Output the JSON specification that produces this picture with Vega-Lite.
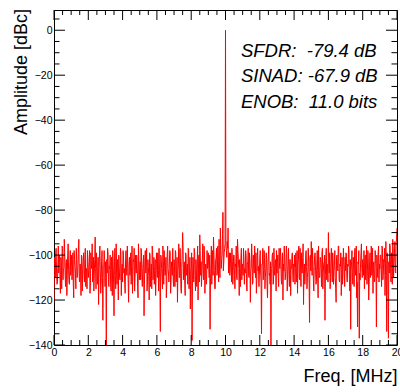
{
"$schema": "https://vega.github.io/schema/vega-lite/v6.json",
"width": 343, "height": 335,
"autosize": {"type": "none"},
"padding": {"left": 54, "top": 10, "right": 3, "bottom": 47},
"background": "white",
"config": {"view": {"stroke": "black", "strokeWidth": 1}, "font": "Liberation Sans"},
"datasets": {
"notes": [
{"f": 10.9, "a": -11.7, "t": "SFDR:\u00a0 -79.4 dB"},
{"f": 10.9, "a": -23.2, "t": "SINAD: -67.9 dB"},
{"f": 10.9, "a": -34.6, "t": "ENOB:\u00a0 11.0 bits"}
],
"xmaj": [{"v":0},{"v":2},{"v":4},{"v":6},{"v":8},{"v":10},{"v":12},{"v":14},{"v":16},{"v":18},{"v":20}],
"xmin": [{"v":0.5},{"v":1},{"v":1.5},{"v":2.5},{"v":3},{"v":3.5},{"v":4.5},{"v":5},{"v":5.5},{"v":6.5},{"v":7},{"v":7.5},{"v":8.5},{"v":9},{"v":9.5},{"v":10.5},{"v":11},{"v":11.5},{"v":12.5},{"v":13},{"v":13.5},{"v":14.5},{"v":15},{"v":15.5},{"v":16.5},{"v":17},{"v":17.5},{"v":18.5},{"v":19},{"v":19.5}],
"ymaj": [{"v":-140},{"v":-120},{"v":-100},{"v":-80},{"v":-60},{"v":-40},{"v":-20},{"v":0}],
"ymin": [{"v":-135},{"v":-130},{"v":-125},{"v":-115},{"v":-110},{"v":-105},{"v":-95},{"v":-90},{"v":-85},{"v":-75},{"v":-70},{"v":-65},{"v":-55},{"v":-50},{"v":-45},{"v":-35},{"v":-30},{"v":-25},{"v":-15},{"v":-10},{"v":-5},{"v":5}],
"spectrum": [
{"f":0.00,"a":-121},{"f":0.05,"a":-104},{"f":0.10,"a":-99},{"f":0.15,"a":-108},{"f":0.20,"a":-112},{"f":0.25,"a":-96},{"f":0.30,"a":-103},{"f":0.35,"a":-110},{"f":0.40,"a":-101},{"f":0.45,"a":-115},{"f":0.50,"a":-97},{"f":0.55,"a":-106},{"f":0.60,"a":-93},{"f":0.65,"a":-109},{"f":0.70,"a":-104},{"f":0.75,"a":-118},{"f":0.80,"a":-100},{"f":0.85,"a":-107},{"f":0.90,"a":-113},{"f":0.95,"a":-98},
{"f":1.00,"a":-105},{"f":1.05,"a":-111},{"f":1.10,"a":-99},{"f":1.15,"a":-119},{"f":1.20,"a":-102},{"f":1.25,"a":-108},{"f":1.30,"a":-97},{"f":1.35,"a":-110},{"f":1.40,"a":-104},{"f":1.45,"a":-93},{"f":1.50,"a":-112},{"f":1.55,"a":-107},{"f":1.60,"a":-100},{"f":1.65,"a":-116},{"f":1.70,"a":-103},{"f":1.75,"a":-109},{"f":1.80,"a":-101},{"f":1.85,"a":-114},{"f":1.90,"a":-106},{"f":1.95,"a":-98},
{"f":2.00,"a":-110},{"f":2.05,"a":-103},{"f":2.10,"a":-117},{"f":2.15,"a":-99},{"f":2.20,"a":-106},{"f":2.25,"a":-112},{"f":2.30,"a":-101},{"f":2.35,"a":-108},{"f":2.40,"a":-92},{"f":2.45,"a":-115},{"f":2.50,"a":-104},{"f":2.55,"a":-109},{"f":2.60,"a":-122},{"f":2.65,"a":-100},{"f":2.70,"a":-107},{"f":2.75,"a":-113},{"f":2.80,"a":-98},{"f":2.85,"a":-129},{"f":2.90,"a":-105},{"f":2.95,"a":-102},
{"f":3.00,"a":-103},{"f":3.05,"a":-140},{"f":3.10,"a":-108},{"f":3.15,"a":-99},{"f":3.20,"a":-114},{"f":3.25,"a":-106},{"f":3.30,"a":-112},{"f":3.35,"a":-101},{"f":3.40,"a":-118},{"f":3.45,"a":-104},{"f":3.50,"a":-127},{"f":3.55,"a":-97},{"f":3.60,"a":-115},{"f":3.65,"a":-108},{"f":3.70,"a":-102},{"f":3.75,"a":-120},{"f":3.80,"a":-105},{"f":3.85,"a":-111},{"f":3.90,"a":-99},{"f":3.95,"a":-107},
{"f":4.00,"a":-112},{"f":4.05,"a":-100},{"f":4.10,"a":-106},{"f":4.15,"a":-117},{"f":4.20,"a":-98},{"f":4.25,"a":-109},{"f":4.30,"a":-104},{"f":4.35,"a":-121},{"f":4.40,"a":-101},{"f":4.45,"a":-107},{"f":4.50,"a":-113},{"f":4.55,"a":-96},{"f":4.60,"a":-110},{"f":4.65,"a":-103},{"f":4.70,"a":-116},{"f":4.75,"a":-100},{"f":4.80,"a":-108},{"f":4.85,"a":-105},{"f":4.90,"a":-119},{"f":4.95,"a":-102},
{"f":5.00,"a":-106},{"f":5.05,"a":-111},{"f":5.10,"a":-99},{"f":5.15,"a":-114},{"f":5.20,"a":-103},{"f":5.25,"a":-127},{"f":5.30,"a":-101},{"f":5.35,"a":-108},{"f":5.40,"a":-97},{"f":5.45,"a":-112},{"f":5.50,"a":-105},{"f":5.55,"a":-120},{"f":5.60,"a":-100},{"f":5.65,"a":-109},{"f":5.70,"a":-115},{"f":5.75,"a":-98},{"f":5.80,"a":-107},{"f":5.85,"a":-113},{"f":5.90,"a":-102},{"f":5.95,"a":-110},
{"f":6.00,"a":-104},{"f":6.05,"a":-99},{"f":6.10,"a":-116},{"f":6.15,"a":-107},{"f":6.20,"a":-134},{"f":6.25,"a":-101},{"f":6.30,"a":-110},{"f":6.35,"a":-96},{"f":6.40,"a":-113},{"f":6.45,"a":-105},{"f":6.50,"a":-108},{"f":6.55,"a":-119},{"f":6.60,"a":-100},{"f":6.65,"a":-106},{"f":6.70,"a":-112},{"f":6.75,"a":-98},{"f":6.80,"a":-117},{"f":6.85,"a":-103},{"f":6.90,"a":-109},{"f":6.95,"a":-111},
{"f":7.00,"a":-102},{"f":7.05,"a":-114},{"f":7.10,"a":-99},{"f":7.15,"a":-108},{"f":7.20,"a":-121},{"f":7.25,"a":-104},{"f":7.30,"a":-110},{"f":7.35,"a":-97},{"f":7.40,"a":-115},{"f":7.45,"a":-106},{"f":7.50,"a":-90},{"f":7.55,"a":-111},{"f":7.60,"a":-103},{"f":7.65,"a":-118},{"f":7.70,"a":-100},{"f":7.75,"a":-107},{"f":7.80,"a":-113},{"f":7.85,"a":-98},{"f":7.90,"a":-109},{"f":7.95,"a":-124},
{"f":8.00,"a":-105},{"f":8.05,"a":-138},{"f":8.10,"a":-101},{"f":8.15,"a":-112},{"f":8.20,"a":-99},{"f":8.25,"a":-116},{"f":8.30,"a":-107},{"f":8.35,"a":-103},{"f":8.40,"a":-120},{"f":8.45,"a":-100},{"f":8.50,"a":-91},{"f":8.55,"a":-109},{"f":8.60,"a":-114},{"f":8.65,"a":-102},{"f":8.70,"a":-108},{"f":8.75,"a":-96},{"f":8.80,"a":-117},{"f":8.85,"a":-104},{"f":8.90,"a":-111},{"f":8.95,"a":-106},
{"f":9.00,"a":-99},{"f":9.05,"a":-110},{"f":9.10,"a":-133},{"f":9.15,"a":-104},{"f":9.20,"a":-113},{"f":9.25,"a":-98},{"f":9.30,"a":-92},{"f":9.35,"a":-107},{"f":9.40,"a":-115},{"f":9.45,"a":-101},{"f":9.50,"a":-109},{"f":9.55,"a":-96},{"f":9.60,"a":-112},{"f":9.65,"a":-104},{"f":9.70,"a":-88},{"f":9.75,"a":-106},{"f":9.80,"a":-100},{"f":9.85,"a":-81},{"f":9.90,"a":-103},{"f":9.95,"a":-97},
{"f":10.00,"a":0},{"f":10.05,"a":-98},{"f":10.10,"a":-94},{"f":10.15,"a":-88},{"f":10.20,"a":-104},{"f":10.25,"a":-109},{"f":10.30,"a":-99},{"f":10.35,"a":-112},{"f":10.40,"a":-103},{"f":10.45,"a":-107},{"f":10.50,"a":-100},{"f":10.55,"a":-115},{"f":10.60,"a":-105},{"f":10.65,"a":-110},{"f":10.70,"a":-93},{"f":10.75,"a":-102},{"f":10.80,"a":-118},{"f":10.85,"a":-106},{"f":10.90,"a":-101},{"f":10.95,"a":-111},
{"f":11.00,"a":-104},{"f":11.05,"a":-97},{"f":11.10,"a":-113},{"f":11.15,"a":-108},{"f":11.20,"a":-100},{"f":11.25,"a":-116},{"f":11.30,"a":-103},{"f":11.35,"a":-109},{"f":11.40,"a":-99},{"f":11.45,"a":-121},{"f":11.50,"a":-106},{"f":11.55,"a":-101},{"f":11.60,"a":-112},{"f":11.65,"a":-105},{"f":11.70,"a":-96},{"f":11.75,"a":-110},{"f":11.80,"a":-117},{"f":11.85,"a":-102},{"f":11.90,"a":-107},{"f":11.95,"a":-114},
{"f":12.00,"a":-101},{"f":12.05,"a":-108},{"f":12.10,"a":-135},{"f":12.15,"a":-104},{"f":12.20,"a":-111},{"f":12.25,"a":-98},{"f":12.30,"a":-115},{"f":12.35,"a":-106},{"f":12.40,"a":-102},{"f":12.45,"a":-119},{"f":12.50,"a":-100},{"f":12.55,"a":-109},{"f":12.60,"a":-113},{"f":12.65,"a":-140},{"f":12.70,"a":-105},{"f":12.75,"a":-99},{"f":12.80,"a":-112},{"f":12.85,"a":-107},{"f":12.90,"a":-103},{"f":12.95,"a":-116},
{"f":13.00,"a":-108},{"f":13.05,"a":-100},{"f":13.10,"a":-114},{"f":13.15,"a":-105},{"f":13.20,"a":-97},{"f":13.25,"a":-111},{"f":13.30,"a":-103},{"f":13.35,"a":-120},{"f":13.40,"a":-107},{"f":13.45,"a":-101},{"f":13.50,"a":-110},{"f":13.55,"a":-96},{"f":13.60,"a":-116},{"f":13.65,"a":-104},{"f":13.70,"a":-109},{"f":13.75,"a":-102},{"f":13.80,"a":-118},{"f":13.85,"a":-106},{"f":13.90,"a":-99},{"f":13.95,"a":-112},
{"f":14.00,"a":-105},{"f":14.05,"a":-113},{"f":14.10,"a":-99},{"f":14.15,"a":-108},{"f":14.20,"a":-117},{"f":14.25,"a":-102},{"f":14.30,"a":-110},{"f":14.35,"a":-97},{"f":14.40,"a":-114},{"f":14.45,"a":-106},{"f":14.50,"a":-101},{"f":14.55,"a":-122},{"f":14.60,"a":-104},{"f":14.65,"a":-109},{"f":14.70,"a":-98},{"f":14.75,"a":-115},{"f":14.80,"a":-107},{"f":14.85,"a":-103},{"f":14.90,"a":-130},{"f":14.95,"a":-100},
{"f":15.00,"a":-94},{"f":15.05,"a":-109},{"f":15.10,"a":-104},{"f":15.15,"a":-116},{"f":15.20,"a":-100},{"f":15.25,"a":-107},{"f":15.30,"a":-112},{"f":15.35,"a":-98},{"f":15.40,"a":-119},{"f":15.45,"a":-105},{"f":15.50,"a":-110},{"f":15.55,"a":-102},{"f":15.60,"a":-114},{"f":15.65,"a":-97},{"f":15.70,"a":-108},{"f":15.75,"a":-103},{"f":15.80,"a":-129},{"f":15.85,"a":-101},{"f":15.90,"a":-111},{"f":15.95,"a":-106},
{"f":16.00,"a":-90},{"f":16.05,"a":-108},{"f":16.10,"a":-115},{"f":16.15,"a":-102},{"f":16.20,"a":-106},{"f":16.25,"a":-99},{"f":16.30,"a":-113},{"f":16.35,"a":-104},{"f":16.40,"a":-110},{"f":16.45,"a":-121},{"f":16.50,"a":-100},{"f":16.55,"a":-107},{"f":16.60,"a":-96},{"f":16.65,"a":-112},{"f":16.70,"a":-105},{"f":16.75,"a":-118},{"f":16.80,"a":-101},{"f":16.85,"a":-109},{"f":16.90,"a":-103},{"f":16.95,"a":-114},
{"f":17.00,"a":-107},{"f":17.05,"a":-100},{"f":17.10,"a":-112},{"f":17.15,"a":-105},{"f":17.20,"a":-98},{"f":17.25,"a":-116},{"f":17.30,"a":-133},{"f":17.35,"a":-103},{"f":17.40,"a":-110},{"f":17.45,"a":-101},{"f":17.50,"a":-114},{"f":17.55,"a":-97},{"f":17.60,"a":-108},{"f":17.65,"a":-119},{"f":17.70,"a":-132},{"f":17.75,"a":-104},{"f":17.80,"a":-137},{"f":17.85,"a":-111},{"f":17.90,"a":-99},{"f":17.95,"a":-106},
{"f":18.00,"a":-102},{"f":18.05,"a":-109},{"f":18.10,"a":-115},{"f":18.15,"a":-100},{"f":18.20,"a":-106},{"f":18.25,"a":-113},{"f":18.30,"a":-98},{"f":18.35,"a":-120},{"f":18.40,"a":-104},{"f":18.45,"a":-110},{"f":18.50,"a":-96},{"f":18.55,"a":-108},{"f":18.60,"a":-117},{"f":18.65,"a":-103},{"f":18.70,"a":-111},{"f":18.75,"a":-101},{"f":18.80,"a":-132},{"f":18.85,"a":-105},{"f":18.90,"a":-99},{"f":18.95,"a":-112},
{"f":19.00,"a":-106},{"f":19.05,"a":-100},{"f":19.10,"a":-114},{"f":19.15,"a":-97},{"f":19.20,"a":-109},{"f":19.25,"a":-103},{"f":19.30,"a":-118},{"f":19.35,"a":-94},{"f":19.40,"a":-134},{"f":19.45,"a":-101},{"f":19.50,"a":-137},{"f":19.55,"a":-108},{"f":19.60,"a":-96},{"f":19.65,"a":-112},{"f":19.70,"a":-104},{"f":19.75,"a":-93},{"f":19.80,"a":-110},{"f":19.85,"a":-99},{"f":19.90,"a":-107},{"f":19.95,"a":-95},
{"f":20.00,"a":-88},
{"f":0.025,"a":-101},{"f":0.075,"a":-110},{"f":0.125,"a":-97},{"f":0.175,"a":-113},{"f":0.225,"a":-105},{"f":0.275,"a":-108},{"f":0.325,"a":-100},{"f":0.375,"a":-117},{"f":0.425,"a":-103},{"f":0.475,"a":-96},{"f":0.525,"a":-111},{"f":0.575,"a":-106},{"f":0.625,"a":-99},{"f":0.675,"a":-114},{"f":0.725,"a":-102},{"f":0.775,"a":-108},{"f":0.825,"a":-95},{"f":0.875,"a":-112},{"f":0.925,"a":-104},{"f":0.975,"a":-109},
{"f":1.025,"a":-100},{"f":1.075,"a":-107},{"f":1.125,"a":-113},{"f":1.175,"a":-98},{"f":1.225,"a":-105},{"f":1.275,"a":-115},{"f":1.325,"a":-102},{"f":1.375,"a":-109},{"f":1.425,"a":-96},{"f":1.475,"a":-111},{"f":1.525,"a":-104},{"f":1.575,"a":-118},{"f":1.625,"a":-101},{"f":1.675,"a":-106},{"f":1.725,"a":-99},{"f":1.775,"a":-112},{"f":1.825,"a":-97},{"f":1.875,"a":-108},{"f":1.925,"a":-115},{"f":1.975,"a":-103},
{"f":2.025,"a":-107},{"f":2.075,"a":-98},{"f":2.125,"a":-112},{"f":2.175,"a":-104},{"f":2.225,"a":-95},{"f":2.275,"a":-110},{"f":2.325,"a":-116},{"f":2.375,"a":-102},{"f":2.425,"a":-106},{"f":2.475,"a":-99},{"f":2.525,"a":-113},{"f":2.575,"a":-101},{"f":2.625,"a":-108},{"f":2.675,"a":-96},{"f":2.725,"a":-117},{"f":2.775,"a":-103},{"f":2.825,"a":-110},{"f":2.875,"a":-105},{"f":2.925,"a":-98},{"f":2.975,"a":-114},
{"f":3.025,"a":-109},{"f":3.075,"a":-102},{"f":3.125,"a":-97},{"f":3.175,"a":-111},{"f":3.225,"a":-105},{"f":3.275,"a":-100},{"f":3.325,"a":-116},{"f":3.375,"a":-107},{"f":3.425,"a":-98},{"f":3.475,"a":-112},{"f":3.525,"a":-103},{"f":3.575,"a":-109},{"f":3.625,"a":-95},{"f":3.675,"a":-113},{"f":3.725,"a":-106},{"f":3.775,"a":-100},{"f":3.825,"a":-110},{"f":3.875,"a":-97},{"f":3.925,"a":-118},{"f":3.975,"a":-104},
{"f":4.025,"a":-98},{"f":4.075,"a":-108},{"f":4.125,"a":-113},{"f":4.175,"a":-101},{"f":4.225,"a":-106},{"f":4.275,"a":-96},{"f":4.325,"a":-112},{"f":4.375,"a":-104},{"f":4.425,"a":-109},{"f":4.475,"a":-99},{"f":4.525,"a":-105},{"f":4.575,"a":-117},{"f":4.625,"a":-102},{"f":4.675,"a":-97},{"f":4.725,"a":-110},{"f":4.775,"a":-107},{"f":4.825,"a":-100},{"f":4.875,"a":-114},{"f":4.925,"a":-95},{"f":4.975,"a":-111},
{"f":5.025,"a":-103},{"f":5.075,"a":-97},{"f":5.125,"a":-110},{"f":5.175,"a":-106},{"f":5.225,"a":-100},{"f":5.275,"a":-113},{"f":5.325,"a":-98},{"f":5.375,"a":-105},{"f":5.425,"a":-116},{"f":5.475,"a":-102},{"f":5.525,"a":-109},{"f":5.575,"a":-99},{"f":5.625,"a":-114},{"f":5.675,"a":-104},{"f":5.725,"a":-96},{"f":5.775,"a":-111},{"f":5.825,"a":-101},{"f":5.875,"a":-107},{"f":5.925,"a":-118},{"f":5.975,"a":-99},
{"f":6.025,"a":-110},{"f":6.075,"a":-104},{"f":6.125,"a":-97},{"f":6.175,"a":-112},{"f":6.225,"a":-100},{"f":6.275,"a":-106},{"f":6.325,"a":-115},{"f":6.375,"a":-103},{"f":6.425,"a":-98},{"f":6.475,"a":-109},{"f":6.525,"a":-101},{"f":6.575,"a":-113},{"f":6.625,"a":-96},{"f":6.675,"a":-108},{"f":6.725,"a":-104},{"f":6.775,"a":-99},{"f":6.825,"a":-111},{"f":6.875,"a":-106},{"f":6.925,"a":-97},{"f":6.975,"a":-114},
{"f":7.025,"a":-105},{"f":7.075,"a":-98},{"f":7.125,"a":-112},{"f":7.175,"a":-101},{"f":7.225,"a":-107},{"f":7.275,"a":-95},{"f":7.325,"a":-110},{"f":7.375,"a":-103},{"f":7.425,"a":-117},{"f":7.475,"a":-100},{"f":7.525,"a":-96},{"f":7.575,"a":-106},{"f":7.625,"a":-113},{"f":7.675,"a":-99},{"f":7.725,"a":-109},{"f":7.775,"a":-104},{"f":7.825,"a":-97},{"f":7.875,"a":-115},{"f":7.925,"a":-101},{"f":7.975,"a":-108},
{"f":8.025,"a":-99},{"f":8.075,"a":-111},{"f":8.125,"a":-104},{"f":8.175,"a":-97},{"f":8.225,"a":-109},{"f":8.275,"a":-102},{"f":8.325,"a":-114},{"f":8.375,"a":-96},{"f":8.425,"a":-106},{"f":8.475,"a":-112},{"f":8.525,"a":-98},{"f":8.575,"a":-103},{"f":8.625,"a":-108},{"f":8.675,"a":-95},{"f":8.725,"a":-111},{"f":8.775,"a":-100},{"f":8.825,"a":-106},{"f":8.875,"a":-113},{"f":8.925,"a":-98},{"f":8.975,"a":-103},
{"f":9.025,"a":-106},{"f":9.075,"a":-100},{"f":9.125,"a":-112},{"f":9.175,"a":-96},{"f":9.225,"a":-105},{"f":9.275,"a":-109},{"f":9.325,"a":-99},{"f":9.375,"a":-115},{"f":9.425,"a":-102},{"f":9.475,"a":-97},{"f":9.525,"a":-108},{"f":9.575,"a":-103},{"f":9.625,"a":-93},{"f":9.675,"a":-110},{"f":9.725,"a":-98},{"f":9.775,"a":-102},{"f":9.825,"a":-91},{"f":9.875,"a":-107},{"f":9.925,"a":-99},{"f":9.975,"a":-95},
{"f":10.025,"a":-96},{"f":10.075,"a":-101},{"f":10.125,"a":-97},{"f":10.175,"a":-108},{"f":10.225,"a":-99},{"f":10.275,"a":-106},{"f":10.325,"a":-103},{"f":10.375,"a":-97},{"f":10.425,"a":-113},{"f":10.475,"a":-100},{"f":10.525,"a":-109},{"f":10.575,"a":-104},{"f":10.625,"a":-96},{"f":10.675,"a":-111},{"f":10.725,"a":-98},{"f":10.775,"a":-106},{"f":10.825,"a":-102},{"f":10.875,"a":-114},{"f":10.925,"a":-97},{"f":10.975,"a":-105},
{"f":11.025,"a":-109},{"f":11.075,"a":-101},{"f":11.125,"a":-106},{"f":11.175,"a":-98},{"f":11.225,"a":-112},{"f":11.275,"a":-104},{"f":11.325,"a":-97},{"f":11.375,"a":-110},{"f":11.425,"a":-103},{"f":11.475,"a":-107},{"f":11.525,"a":-95},{"f":11.575,"a":-113},{"f":11.625,"a":-100},{"f":11.675,"a":-108},{"f":11.725,"a":-102},{"f":11.775,"a":-99},{"f":11.825,"a":-111},{"f":11.875,"a":-97},{"f":11.925,"a":-105},{"f":11.975,"a":-109},
{"f":12.025,"a":-98},{"f":12.075,"a":-112},{"f":12.125,"a":-104},{"f":12.175,"a":-97},{"f":12.225,"a":-107},{"f":12.275,"a":-101},{"f":12.325,"a":-110},{"f":12.375,"a":-99},{"f":12.425,"a":-114},{"f":12.475,"a":-105},{"f":12.525,"a":-96},{"f":12.575,"a":-108},{"f":12.625,"a":-103},{"f":12.675,"a":-106},{"f":12.725,"a":-100},{"f":12.775,"a":-113},{"f":12.825,"a":-97},{"f":12.875,"a":-109},{"f":12.925,"a":-102},{"f":12.975,"a":-98},
{"f":13.025,"a":-103},{"f":13.075,"a":-110},{"f":13.125,"a":-97},{"f":13.175,"a":-106},{"f":13.225,"a":-101},{"f":13.275,"a":-113},{"f":13.325,"a":-99},{"f":13.375,"a":-104},{"f":13.425,"a":-96},{"f":13.475,"a":-111},{"f":13.525,"a":-105},{"f":13.575,"a":-99},{"f":13.625,"a":-108},{"f":13.675,"a":-97},{"f":13.725,"a":-114},{"f":13.775,"a":-102},{"f":13.825,"a":-106},{"f":13.875,"a":-100},{"f":13.925,"a":-110},{"f":13.975,"a":-104},
{"f":14.025,"a":-100},{"f":14.075,"a":-106},{"f":14.125,"a":-112},{"f":14.175,"a":-98},{"f":14.225,"a":-104},{"f":14.275,"a":-96},{"f":14.325,"a":-111},{"f":14.375,"a":-103},{"f":14.425,"a":-99},{"f":14.475,"a":-108},{"f":14.525,"a":-95},{"f":14.575,"a":-106},{"f":14.625,"a":-113},{"f":14.675,"a":-100},{"f":14.725,"a":-105},{"f":14.775,"a":-110},{"f":14.825,"a":-97},{"f":14.875,"a":-112},{"f":14.925,"a":-101},{"f":14.975,"a":-107},
{"f":15.025,"a":-102},{"f":15.075,"a":-97},{"f":15.125,"a":-111},{"f":15.175,"a":-105},{"f":15.225,"a":-99},{"f":15.275,"a":-113},{"f":15.325,"a":-103},{"f":15.375,"a":-108},{"f":15.425,"a":-96},{"f":15.475,"a":-110},{"f":15.525,"a":-101},{"f":15.575,"a":-106},{"f":15.625,"a":-99},{"f":15.675,"a":-115},{"f":15.725,"a":-104},{"f":15.775,"a":-100},{"f":15.825,"a":-109},{"f":15.875,"a":-97},{"f":15.925,"a":-104},{"f":15.975,"a":-112},
{"f":16.025,"a":-104},{"f":16.075,"a":-99},{"f":16.125,"a":-110},{"f":16.175,"a":-97},{"f":16.225,"a":-112},{"f":16.275,"a":-103},{"f":16.325,"a":-107},{"f":16.375,"a":-98},{"f":16.425,"a":-115},{"f":16.475,"a":-101},{"f":16.525,"a":-106},{"f":16.575,"a":-96},{"f":16.625,"a":-111},{"f":16.675,"a":-104},{"f":16.725,"a":-99},{"f":16.775,"a":-108},{"f":16.825,"a":-113},{"f":16.875,"a":-97},{"f":16.925,"a":-106},{"f":16.975,"a":-101},
{"f":17.025,"a":-99},{"f":17.075,"a":-110},{"f":17.125,"a":-104},{"f":17.175,"a":-96},{"f":17.225,"a":-111},{"f":17.275,"a":-102},{"f":17.325,"a":-107},{"f":17.375,"a":-98},{"f":17.425,"a":-113},{"f":17.475,"a":-105},{"f":17.525,"a":-100},{"f":17.575,"a":-109},{"f":17.625,"a":-96},{"f":17.675,"a":-112},{"f":17.725,"a":-103},{"f":17.775,"a":-98},{"f":17.825,"a":-108},{"f":17.875,"a":-104},{"f":17.925,"a":-95},{"f":17.975,"a":-110},
{"f":18.025,"a":-106},{"f":18.075,"a":-98},{"f":18.125,"a":-103},{"f":18.175,"a":-111},{"f":18.225,"a":-96},{"f":18.275,"a":-107},{"f":18.325,"a":-101},{"f":18.375,"a":-113},{"f":18.425,"a":-99},{"f":18.475,"a":-105},{"f":18.525,"a":-109},{"f":18.575,"a":-97},{"f":18.625,"a":-104},{"f":18.675,"a":-112},{"f":18.725,"a":-98},{"f":18.775,"a":-106},{"f":18.825,"a":-100},{"f":18.875,"a":-110},{"f":18.925,"a":-96},{"f":18.975,"a":-104},
{"f":19.025,"a":-100},{"f":19.075,"a":-108},{"f":19.125,"a":-96},{"f":19.175,"a":-111},{"f":19.225,"a":-102},{"f":19.275,"a":-97},{"f":19.325,"a":-109},{"f":19.375,"a":-104},{"f":19.425,"a":-99},{"f":19.475,"a":-112},{"f":19.525,"a":-103},{"f":19.575,"a":-95},{"f":19.625,"a":-106},{"f":19.675,"a":-99},{"f":19.725,"a":-113},{"f":19.775,"a":-97},{"f":19.825,"a":-104},{"f":19.875,"a":-94},{"f":19.925,"a":-108},{"f":19.975,"a":-92}
]
},
"layer": [
{
"data": {"name": "spectrum"},
"mark": {"type": "line", "color": "#ff0000", "strokeWidth": 1, "clip": true},
"encoding": {
"x": {"field": "f", "type": "quantitative", "scale": {"domain": [0, 20], "nice": false, "zero": false},
 "axis": {"orient": "bottom", "tickCount": 10, "grid": false, "domain": false, "ticks": false, "tickSize": 0,
  "labelFontSize": 10.5, "labelPadding": 2, "labelBaseline": "top", "labelColor": "black", "labelFont": "Liberation Sans", "labelFlush": false,
  "title": "Freq. [MHz]", "titleFont": "Liberation Sans", "titleColor": "black", "titleFontSize": 18, "titleFontWeight": "normal", "titleAlign": "right", "titleBaseline": "alphabetic", "titleX": 343, "titleY": 36.5}},
"y": {"field": "a", "type": "quantitative", "scale": {"domain": [-140, 9], "nice": false, "zero": false},
 "axis": {"orient": "left", "tickCount": 8, "grid": false, "domain": false, "ticks": false, "tickSize": 0,
  "labelFontSize": 10.5, "labelPadding": 2, "labelBaseline": "middle", "labelAlign": "right", "labelColor": "black", "labelFont": "Liberation Sans", "labelFlush": false,
  "title": "Amplitude [dBc]", "titleFont": "Liberation Sans", "titleColor": "black", "titleFontSize": 18, "titleFontWeight": "normal", "titleAngle": -90, "titleAlign": "right", "titleBaseline": "alphabetic", "titleX": -27.5, "titleY": -1.5}}
}
},
{
"data": {"name": "notes"},
"mark": {"type": "text", "align": "left", "baseline": "alphabetic", "fontStyle": "italic", "fontSize": 18.5, "font": "Liberation Sans", "color": "black"},
"encoding": {
"x": {"field": "f", "type": "quantitative", "axis": null},
"y": {"field": "a", "type": "quantitative", "axis": null},
"text": {"field": "t"}
}
},
{"data": {"name": "xmaj"}, "mark": {"type": "rule", "color": "black", "strokeWidth": 1},
 "encoding": {"x": {"field": "v", "type": "quantitative", "axis": null}, "y": {"datum": -140, "axis": null}, "y2": {"datum": -135.55}}},
{"data": {"name": "xmaj"}, "mark": {"type": "rule", "color": "black", "strokeWidth": 1},
 "encoding": {"x": {"field": "v", "type": "quantitative", "axis": null}, "y": {"datum": 9, "axis": null}, "y2": {"datum": 4.55}}},
{"data": {"name": "xmin"}, "mark": {"type": "rule", "color": "black", "strokeWidth": 1},
 "encoding": {"x": {"field": "v", "type": "quantitative", "axis": null}, "y": {"datum": -140, "axis": null}, "y2": {"datum": -137.78}}},
{"data": {"name": "xmin"}, "mark": {"type": "rule", "color": "black", "strokeWidth": 1},
 "encoding": {"x": {"field": "v", "type": "quantitative", "axis": null}, "y": {"datum": 9, "axis": null}, "y2": {"datum": 6.78}}},
{"data": {"name": "ymaj"}, "mark": {"type": "rule", "color": "black", "strokeWidth": 1},
 "encoding": {"y": {"field": "v", "type": "quantitative", "axis": null}, "x": {"datum": 0, "axis": null}, "x2": {"datum": 0.641}}},
{"data": {"name": "ymaj"}, "mark": {"type": "rule", "color": "black", "strokeWidth": 1},
 "encoding": {"y": {"field": "v", "type": "quantitative", "axis": null}, "x": {"datum": 20, "axis": null}, "x2": {"datum": 19.359}}},
{"data": {"name": "ymin"}, "mark": {"type": "rule", "color": "black", "strokeWidth": 1},
 "encoding": {"y": {"field": "v", "type": "quantitative", "axis": null}, "x": {"datum": 0, "axis": null}, "x2": {"datum": 0.321}}},
{"data": {"name": "ymin"}, "mark": {"type": "rule", "color": "black", "strokeWidth": 1},
 "encoding": {"y": {"field": "v", "type": "quantitative", "axis": null}, "x": {"datum": 20, "axis": null}, "x2": {"datum": 19.679}}}
],
"resolve": {"axis": {"x": "independent", "y": "independent"}}
}
